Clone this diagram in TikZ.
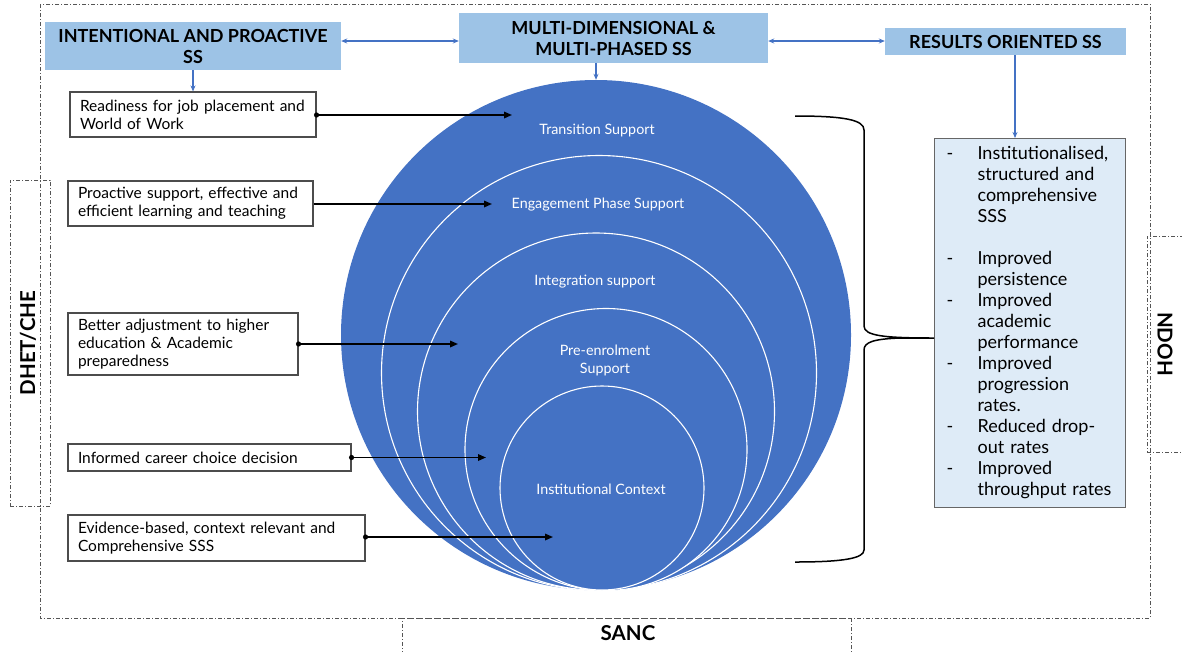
\documentclass[tikz,border=0pt]{standalone}
\usepackage{fontspec}
\setmainfont{Lato}
\usetikzlibrary{arrows.meta}
\definecolor{hbox}{HTML}{9DC3E6}
\definecolor{blu}{HTML}{4472C4}
\definecolor{rbox}{HTML}{DEEBF7}
\definecolor{frm}{HTML}{555555}
\begin{document}
\begin{tikzpicture}[x=1pt,y=-1pt,
  head/.style={fill=hbox, draw=none, font=\bfseries\fontsize{18}{21}\selectfont, align=center, inner sep=0pt},
  leftbox/.style={draw=black!70, line width=1.1pt, fill=white, font=\fontsize{15.5}{18}\selectfont, align=left, inner xsep=10pt, inner ysep=0pt},
  ring/.style={circle, fill=blu, draw=white, line width=1.1pt, inner sep=0pt},
  clabel/.style={text=white, font=\fontsize{14.3}{18}\selectfont, align=center},
  frame/.style={draw=frm, line width=0.7pt, dash pattern=on 4pt off 2pt on 1pt off 2pt},
  side/.style={font=\bfseries\fontsize{20.5}{22}\selectfont},
  barrow/.style={draw=blu, line width=1.2pt, -{Stealth[length=6pt,width=5pt]}},
  bdarrow/.style={draw=blu, line width=1.2pt, {Stealth[length=6pt,width=5pt]}-{Stealth[length=6pt,width=5pt]}},
  karrow/.style={draw=black, line width=1.6pt, -{Triangle[length=8pt,width=6.5pt]}},
  kdot/.style={fill=black}
]
\useasboundingbox (0,0) rectangle (1182,651);

% outer frames
\draw[frame] (40,4) rectangle (1150,618);
\node[frame, draw, minimum width=40pt, minimum height=326pt, inner sep=0pt] (dhet) at (30,343) {};
\node[side, rotate=90] (dhettxt) at (28,343) {DHET/CHE};
\node[frame, draw, minimum width=50pt, minimum height=216pt, inner sep=0pt] (ndoh) at (1172,344) {};
\node[side, rotate=-90] (ndohtxt) at (1165,344) {NDOH};
\node[frame, draw, minimum width=449pt, minimum height=50pt, inner sep=0pt] (sanc) at (626.5,643) {};
\node[side] (sanctxt) at (628,633) {SANC};

% headings
\node[head, minimum width=296pt, minimum height=48pt] (h1) at (193,46) {INTENTIONAL AND PROACTIVE\\SS};
\node[head, minimum width=309pt, minimum height=50pt] (h2) at (613.5,38) {MULTI-DIMENSIONAL \&\\MULTI-PHASED SS};
\node[head, minimum width=241pt, minimum height=27pt] (h3) at (1005.5,41.5) {RESULTS ORIENTED SS};

% circles
\node[circle, fill=blu, inner sep=0pt, minimum size=510pt] (c1) at (596,335) {};
\node[ring, minimum size=435pt] (c2) at (599,373) {};
\node[ring, minimum size=357pt] (c3) at (596,411.5) {};
\node[ring, minimum size=282pt] (c4) at (606,449.5) {};
\node[ring, minimum size=204pt] (c5) at (602,488) {};
\node[clabel] (l1) at (597,130) {Transition Support};
\node[clabel] (l2) at (598,205) {Engagement Phase Support};
\node[clabel] (l3) at (595,282) {Integration support};
\node[clabel] (l4) at (605,360) {Pre-enrolment\\Support};
\node[clabel] (l5) at (601,489) {Institutional Context};

% left boxes
\node[leftbox, minimum height=45pt, text width=226pt] (b1) at (193,114.5) {Readiness for job placement and\\World of Work};
\node[leftbox, minimum height=45pt, text width=225pt] (b2) at (190.5,203.5) {Proactive support, effective and\\efficient learning and teaching};
\node[leftbox, minimum height=62pt, text width=210pt] (b3) at (183,344) {Better adjustment to higher\\education \& Academic\\preparedness};
\node[leftbox, minimum height=27pt, text width=263pt] (b4) at (209.5,457.5) {Informed career choice decision};
\node[leftbox, minimum height=46pt, text width=277pt] (b5) at (216.5,538) {Evidence-based, context relevant and\\Comprehensive SSS};

\coordinate (t1) at (512,115);
\coordinate (t2) at (492,204);
\coordinate (t3) at (458,344);
\coordinate (t4) at (486,457.5);
\coordinate (t5) at (553,537);
\draw[karrow] (b1.east |- t1) -- (t1);
\draw[karrow] (b2.east |- t2) -- (t2);
\draw[karrow] (b3.east |- t3) -- (t3);
\draw[karrow] (b4.east |- t4) -- (t4);
\draw[karrow] (b5.east |- t5) -- (t5);
\fill[kdot] (b1.east |- t1) circle (2.6);
\fill[kdot] (b3.east |- t3) circle (2.6);
\fill[kdot] (b4.east |- t4) circle (2.6);
\fill[kdot] (b5.east |- t5) circle (2.6);

% right box
\node[draw=black!60, line width=1.1pt, fill=rbox, anchor=north west, minimum width=191pt, minimum height=369pt, inner xsep=12pt, inner ysep=0pt, text width=167pt, align=left, font=\fontsize{18}{21}\selectfont] (rb) at (934,138) {%
\begin{tabular}{@{}p{31pt}@{}l@{}}
- & Institutionalised,\\
  & structured and\\
  & comprehensive\\
  & SSS\\
  & \\
- & Improved\\
  & persistence\\
- & Improved\\
  & academic\\
  & performance\\
- & Improved\\
  & progression\\
  & rates.\\
- & Reduced drop-\\
  & out rates\\
- & Improved\\
  & throughput rates
\end{tabular}};

% brace
\coordinate (bt) at (795,116);
\coordinate (bb) at (795,562);
\draw[line width=1.5pt] (bt) .. controls (845,116) and (864,120) .. (864,130) -- (864,326)
  .. controls (864,336) and (885,338) .. (rb.west |- 0,338) -- (900,338)
  .. controls (874,339) and (864,342) .. (864,350) -- (864,550)
  .. controls (864,558) and (845,562) .. (bb);

% blue connectors
\coordinate (ya) at (0,41);
\coordinate (ax) at (1015,0);
\draw[bdarrow] (h1.east |- ya) -- (h2.west |- ya);
\draw[bdarrow] (h2.east |- ya) -- (h3.west |- ya);
\draw[barrow] (h1.south) -- (b1.north);
\draw[barrow] (c1.north |- h2.south) -- (c1.north);
\draw[barrow] (ax |- h3.south) -- (ax |- rb.north);
\end{tikzpicture}
\end{document}
